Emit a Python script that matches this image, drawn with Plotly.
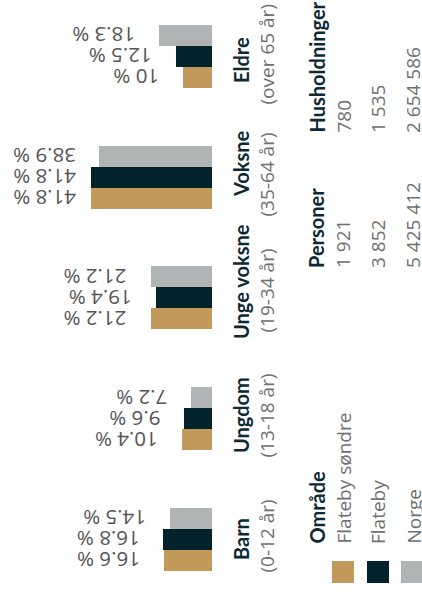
import plotly.graph_objects as go

W, H = 422, 596
categories = ["Barn", "Ungdom", "Unge voksne", "Voksne", "Eldre"]
age_ranges = ["(0-12 år)", "(13-18 år)", "(19-34 år)", "(35-64 år)", "(over 65 år)"]
series_names = ["Flateby søndre", "Flateby", "Norge"]
flateby_sondre = [16.6, 10.4, 21.2, 41.8, 10.0]
flateby = [16.8, 9.6, 19.4, 41.8, 12.5]
norge = [14.5, 7.2, 21.2, 38.9, 18.3]
personer = ["1 921", "3 852", "5 425 412"]
husholdninger = ["780", "1 535", "2 654 586"]
colors = ["#c19a5b", "#03232c", "#b1b4b5"]

DARK = "#0b2a33"
GREY = "#707070"
VAL = "#555555"
BOLD_FONT = "Lato"
REG_FONT = "Open Sans"
FS_B = 20
FS_R = 19
FS_V = 20.5

# layout geometry (screen pixels)
PX = 2.895          # pixels per percent
X0 = 212            # zero line
ROW = 120.6         # pixels per category
Y0 = 539            # first category centre
BAR = 21 / ROW

xr = [X0 / PX, (X0 - W) / PX]
yr = [(Y0 - H) / ROW, Y0 / ROW]

def fmt(v):
    s = ("%.1f" % v).rstrip("0").rstrip(".")
    return s + " %"

fig = go.Figure()
allvals = [flateby_sondre, flateby, norge]
offsets = [-1.5 * BAR, -0.5 * BAR, 0.5 * BAR]
ypos = list(range(len(categories)))
for name, vals, col, off in zip(series_names, allvals, colors, offsets):
    fig.add_trace(go.Bar(
        y=ypos, x=vals, orientation="h", name=name,
        marker=dict(color=col, line=dict(width=0)),
        width=BAR, offset=off, showlegend=False, hoverinfo="skip"))

ann = []
for vals, off in zip(allvals, offsets):
    for i, v in enumerate(vals):
        end_px = X0 - v * PX
        shift = -min(22, end_px - 78)
        ann.append(dict(x=v, y=i + off + BAR / 2, xref="x", yref="y",
                        text=fmt(v), textangle=180, showarrow=False,
                        xanchor="right", yanchor="middle", xshift=shift,
                        font=dict(family=REG_FONT, size=FS_V, color=VAL)))

def px(x):
    return x / W

def py(y):
    return 1 - y / H

# category labels (centres, screen px)
cat_y = [(539, 536), (415, 416), (281, 291), (163, 175), (60, 55)]
for name, rng, (yb, yp) in zip(categories, age_ranges, cat_y):
    ann.append(dict(x=px(241), y=py(yb), xref="paper", yref="paper",
                    text="<b>%s</b>" % name, textangle=-90, showarrow=False,
                    xanchor="center", yanchor="middle",
                    font=dict(family=BOLD_FONT, size=FS_B, color=DARK)))
    ann.append(dict(x=px(266.5), y=py(yp), xref="paper", yref="paper",
                    text=rng, textangle=-90, showarrow=False,
                    xanchor="center", yanchor="middle",
                    font=dict(family=REG_FONT, size=FS_R, color=GREY)))

# legend / table
col_x = [316, 343, 378, 413]
ann.append(dict(x=px(col_x[0]), y=py(546), xref="paper", yref="paper",
                text="<b>Område</b>", textangle=-90, showarrow=False,
                xanchor="center", yanchor="bottom",
                font=dict(family=BOLD_FONT, size=FS_B, color=DARK)))
for name, cx in zip(series_names, col_x[1:]):
    ann.append(dict(x=px(cx), y=py(546), xref="paper", yref="paper",
                    text=name, textangle=-90, showarrow=False,
                    xanchor="center", yanchor="bottom",
                    font=dict(family=REG_FONT, size=FS_R, color=GREY)))

for title, vals, yb in [("Personer", personer, 270), ("Husholdninger", husholdninger, 135)]:
    ann.append(dict(x=px(col_x[0]), y=py(yb), xref="paper", yref="paper",
                    text="<b>%s</b>" % title, textangle=-90, showarrow=False,
                    xanchor="center", yanchor="bottom",
                    font=dict(family=BOLD_FONT, size=FS_B, color=DARK)))
    for v, cx in zip(vals, col_x[1:]):
        ann.append(dict(x=px(cx), y=py(yb), xref="paper", yref="paper",
                        text=v, textangle=-90, showarrow=False,
                        xanchor="center", yanchor="bottom",
                        font=dict(family=REG_FONT, size=FS_R, color=GREY)))

shapes = []
for col, x0 in zip(colors, [332, 367, 401]):
    shapes.append(dict(type="rect", xref="paper", yref="paper",
                       x0=px(x0), x1=px(x0 + 22), y0=py(583), y1=py(561),
                       fillcolor=col, line=dict(width=0)))

fig.update_layout(
    width=W, height=H, margin=dict(l=0, r=0, t=0, b=0),
    paper_bgcolor="white", plot_bgcolor="white",
    xaxis=dict(range=xr, visible=False, fixedrange=True),
    yaxis=dict(range=yr, visible=False, fixedrange=True),
    annotations=ann, shapes=shapes, bargap=0,
)
fig.write_html("out.html",
               config={"displayModeBar": False, "staticPlot": True},
               post_script="document.body.style.margin='0';"
                           "document.body.style.overflow='hidden';")
